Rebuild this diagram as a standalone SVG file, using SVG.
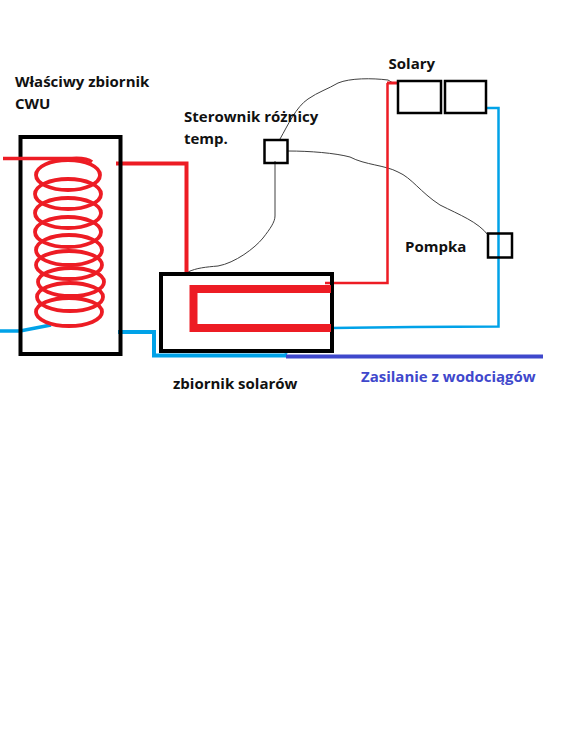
<svg xmlns="http://www.w3.org/2000/svg" width="562" height="750" viewBox="0 0 562 750">
<style>
.box{fill:none;stroke:#000}
.red{fill:none;stroke:#ed1c24;stroke-linejoin:miter}
.blue{fill:none;stroke:#00a2e8}
.wire{fill:none;stroke:#404040;stroke-width:1}
.coil{fill:none;stroke:#ed1c24;stroke-width:3.800}
text{font-family:"Open Sans","Noto Sans",sans-serif;font-size:15px;font-weight:700;fill:#111}
</style>
<rect width="562" height="750" fill="#fff"/>
<g id="connectors">
<path class="wire" d="M188 272C196 268 206 267 218 266C235 263 255 248 263 238C270 229 275 222 275 216V161"/>
<path class="wire" d="M280 139C288 125 296 107 308 99C318 92 328 89 338 83C350 78 372 78 388 80L393 83"/>
<path class="wire" d="M288 151C310 151 335 153 350 157C365 165 385 165 398 172C412 178 420 192 440 205C460 215 478 222 488 235"/>
<path class="red" stroke-width="4" d="M116 163.500H186.500V272"/>
<path class="red" stroke-width="2.500" d="M325 283H387.500V83"/>
<path class="red" stroke-width="3" d="M387 83H399"/>
<path class="blue" stroke-width="2.500" d="M486 108H498.500V326.500L413 327L331 328"/>
<path class="blue" stroke-width="4" d="M118 332H154V355.500H287"/>
<path class="blue" stroke-width="3.500" d="M0 331L20 331L51 325"/>
<path fill="none" stroke="#3f48cc" stroke-width="4" d="M286 356.500H543"/>
<circle cx="286" cy="352" r="2" fill="#00a2e8"/>
</g>
<g id="tank-cwu">
<rect class="box" x="20.500" y="137" width="100" height="217" stroke-width="4"/>
<path class="red" stroke-width="3.500" d="M3 158.500H72C80 158 88 159 92 162"/>
<ellipse class="coil" cx="68" cy="175" rx="32" ry="15"/>
<ellipse class="coil" cx="68" cy="194" rx="33" ry="15"/>
<ellipse class="coil" cx="68" cy="213" rx="33" ry="15"/>
<ellipse class="coil" cx="68" cy="232" rx="33" ry="15"/>
<ellipse class="coil" cx="69" cy="250" rx="33" ry="15"/>
<ellipse class="coil" cx="69" cy="265" rx="33" ry="14"/>
<ellipse class="coil" cx="71" cy="282" rx="33" ry="14"/>
<ellipse class="coil" cx="70" cy="297" rx="33" ry="14"/>
<ellipse class="coil" cx="69" cy="312" rx="33" ry="14"/>
<text x="15" y="87">Właściwy zbiornik</text>
<text x="15" y="109">CWU</text>
</g>
<g id="tank-solar">
<rect class="box" x="161" y="274" width="171" height="77" stroke-width="4"/>
<path class="red" stroke-width="8" d="M331 289H193.500V328H331"/>
<text x="173" y="389">zbiornik solarów</text>
</g>
<g id="controller">
<rect class="box" x="264.500" y="140" width="23" height="23" stroke-width="2.500"/>
<text x="184" y="122">Sterownik różnicy</text>
<text x="184" y="144">temp.</text>
</g>
<g id="pump">
<rect class="box" x="488" y="233.500" width="24" height="24" stroke-width="2.500"/>
<text x="405" y="252">Pompka</text>
</g>
<g id="solar-panels">
<rect class="box" x="398" y="81" width="43" height="32" stroke-width="2.500"/>
<rect class="box" x="445" y="81" width="41" height="32" stroke-width="2.500"/>
<text x="388.500" y="69">Solary</text>
</g>
<g id="mains">
<text x="361" y="382" style="fill:#3f48cc">Zasilanie z wodociągów</text>
</g>
</svg>
